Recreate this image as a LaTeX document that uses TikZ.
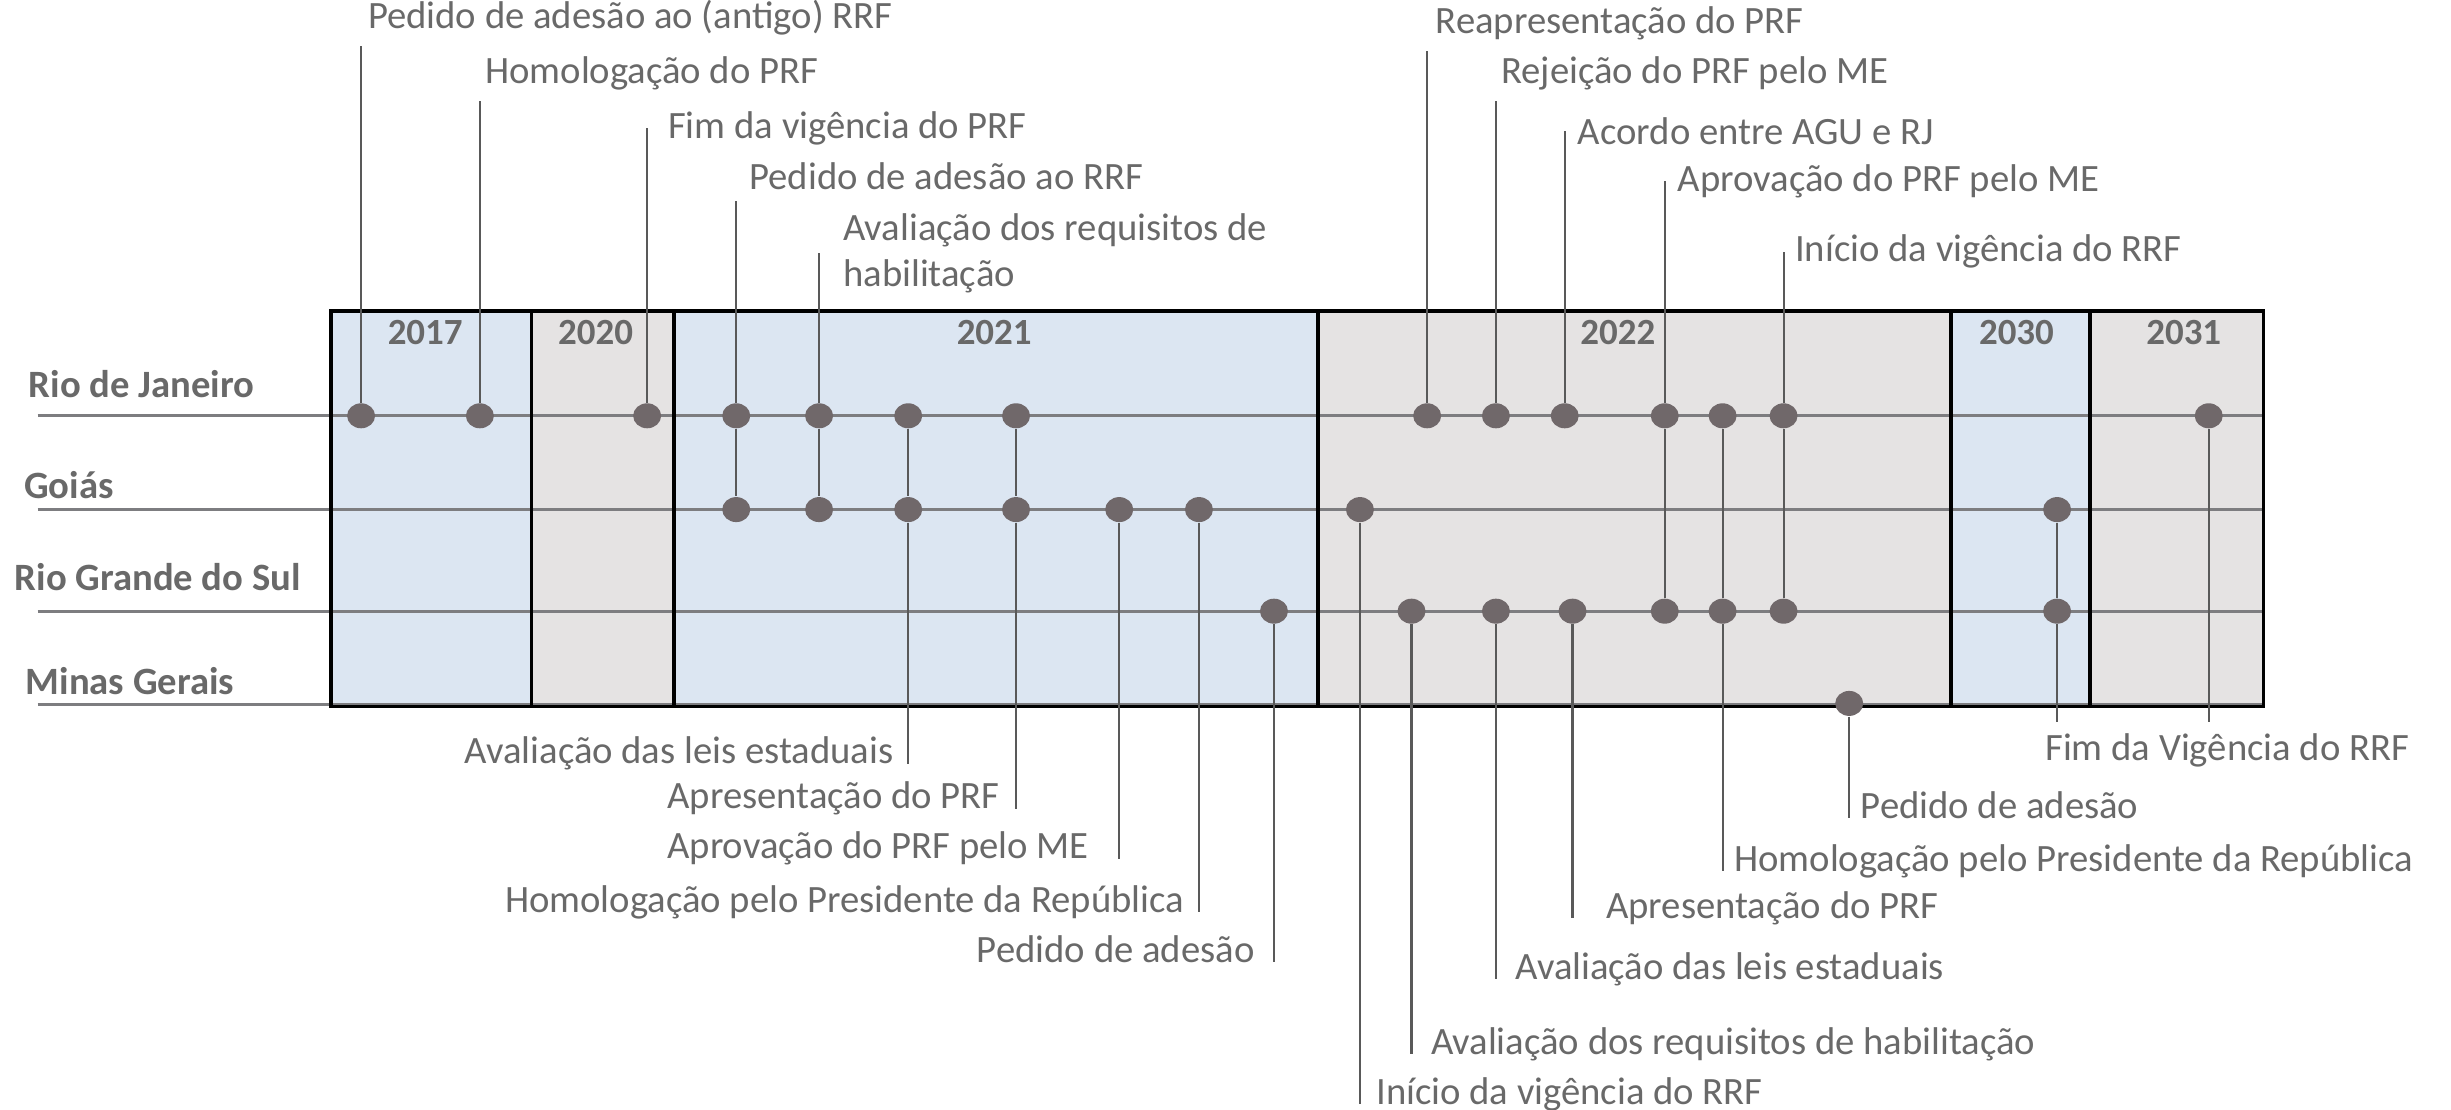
\documentclass[tikz,border=0pt]{standalone}
\usepackage{fontspec}
\setmainfont{Carlito}
\usetikzlibrary{positioning,shapes.geometric}

\definecolor{azulano}{RGB}{220,230,242}
\definecolor{cinzaano}{RGB}{229,227,227}
\definecolor{cinzaponto}{RGB}{112,104,106}
\definecolor{cinzatexto}{RGB}{105,105,105}
\definecolor{cinzalinha}{RGB}{125,125,128}

\begin{document}
\begin{tikzpicture}[x=0.015631cm, y=-0.015631cm,
    every node/.style={font=\fontsize{11}{13}\selectfont, text=cinzatexto},
    estado/.style={anchor=west, inner xsep=0pt, font=\fontsize{11}{13}\selectfont\bfseries},
    ano/.style={font=\fontsize{10.5}{12}\selectfont\bfseries},
    marco/.style={inner xsep=0pt, inner ysep=3pt},
    ponto/.style={ellipse, fill=cinzaponto, minimum width=2.8mm, minimum height=2.5mm, inner sep=0pt},
    linha/.style={cinzalinha, line width=0.85pt},
    haste/.style={black!65, line width=0.6pt},
    moldura/.style={black, line width=1.1pt}]

  \useasboundingbox (0,0) rectangle (1568,710);

  % colunas dos anos
  \foreach \xa/\xb/\cor/\ano/\xt in {212/340/azulano/2017/272,340/431/cinzaano/2020/381,
      431/843/azulano/2021/636,843/1248/cinzaano/2022/1035,1248/1337/azulano/2030/1290,1337/1448/cinzaano/2031/1397}{
    \fill[\cor] (\xa,199) rectangle (\xb,452);
    \node[ano] (a\ano) at (\xt,213) {\ano};
  }

  % linhas dos estados
  \foreach \id/\xe/\ye/\yl/\nome in {rj/18/246/266/Rio de Janeiro,go/15/310/326/Goiás,
      rs/9/369/391/Rio Grande do Sul,mg/16/436/451/Minas Gerais}{
    \node[estado] (\id) at (\xe,\ye) {\nome};
    \coordinate (\id-ini) at (24,\yl);
    \coordinate (\id-fim) at (1448,\yl);
    \draw[linha] (\id-ini) -- (\id-fim);
  }

  \foreach \xa/\xb in {212/340,340/431,431/843,843/1248,1248/1337,1337/1448}
    \draw[moldura] (\xa,199) rectangle (\xb,452);

  % marcos
  \foreach \x [count=\i] in {231,307,414,471,524,581,650,913,957,1001,1065,1102,1141,1413}
    \node[ponto] (rj\i) at (\x,266) {};
  \foreach \x [count=\i] in {471,524,581,650,716,767,870,1316}
    \node[ponto] (go\i) at (\x,326) {};
  \foreach \x [count=\i] in {815,903,957,1006,1065,1102,1141,1316}
    \node[ponto] (rs\i) at (\x,391) {};
  \node[ponto] (mg1) at (1183,450) {};

  % ligacoes entre estados
  \foreach \de/\para in {rj4/go1,rj5/go2,rj6/go3,rj7/go4,rj11/rs5,rj12/rs6,rj13/rs7,go8/rs8}
    \draw[haste] (\de) -- (\para);

  % textos de cima
  \foreach \id/\xt/\yt/\mk/\anc/\txt in {t1/235/11/rj1/south/Pedido de adesão ao (antigo) RRF,
      t2/310/47/rj2/south/Homologação do PRF,
      t3/427/82/rj3/west/Fim da vigência do PRF,
      t4/479/113/rj4/south/Pedido de adesão ao RRF,
      t6/918/15/rj8/south/Reapresentação do PRF,
      t7/960/47/rj9/south/Rejeição do PRF pelo ME,
      t8/1009/84/rj10/west/Acordo entre AGU e RJ,
      t9/1073/116/rj11/west/Aprovação do PRF pelo ME,
      t10/1148/161/rj13/west/Início da vigência do RRF}{
    \node[marco, anchor=west] (\id) at (\xt,\yt) {\txt};
    \draw[haste] (\mk) -- (\mk |- \id.\anc);
  }
  \node[marco, anchor=west, align=left] (t5) at (539,162) {Avaliação dos requisitos de\\habilitação};
  \draw[haste] (rj5) -- (rj5 |- t5.west);

  % textos de baixo
  \foreach \id/\xt/\yt/\mk/\txt in {b1/572/482/go3/Avaliação das leis estaduais,
      b2/640/511/go4/Apresentação do PRF,
      b3/697/543/go5/Aprovação do PRF pelo ME,
      b4/758/577/go6/Homologação pelo Presidente da República,
      b5/803/607/rs1/Pedido de adesão}{
    \node[marco, anchor=east] (\id) at (\xt,\yt) {\txt};
    \draw[haste] (\mk) -- (\mk |- \id.base);
  }
  \foreach \id/\xt/\yt/\mk/\txt in {b7/1190/515/mg1/Pedido de adesão,
      b8/1109/551/rs6/Homologação pelo Presidente da República,
      b9/1027/581/rs4/Apresentação do PRF,
      b10/969/620/rs3/Avaliação das leis estaduais,
      b11/915/668/rs2/Avaliação dos requisitos de habilitação,
      b12/880/700/go7/Início da vigência do RRF}{
    \node[marco, anchor=west] (\id) at (\xt,\yt) {\txt};
    \draw[haste] (\mk) -- (\mk |- \id.base);
  }
  \node[marco, anchor=west] (b6) at (1308,480) {Fim da Vigência do RRF};
  \draw[haste] (rs8) -- (rs8 |- b6.north);
  \draw[haste] (rj14) -- (rj14 |- b6.north);
\end{tikzpicture}
\end{document}
